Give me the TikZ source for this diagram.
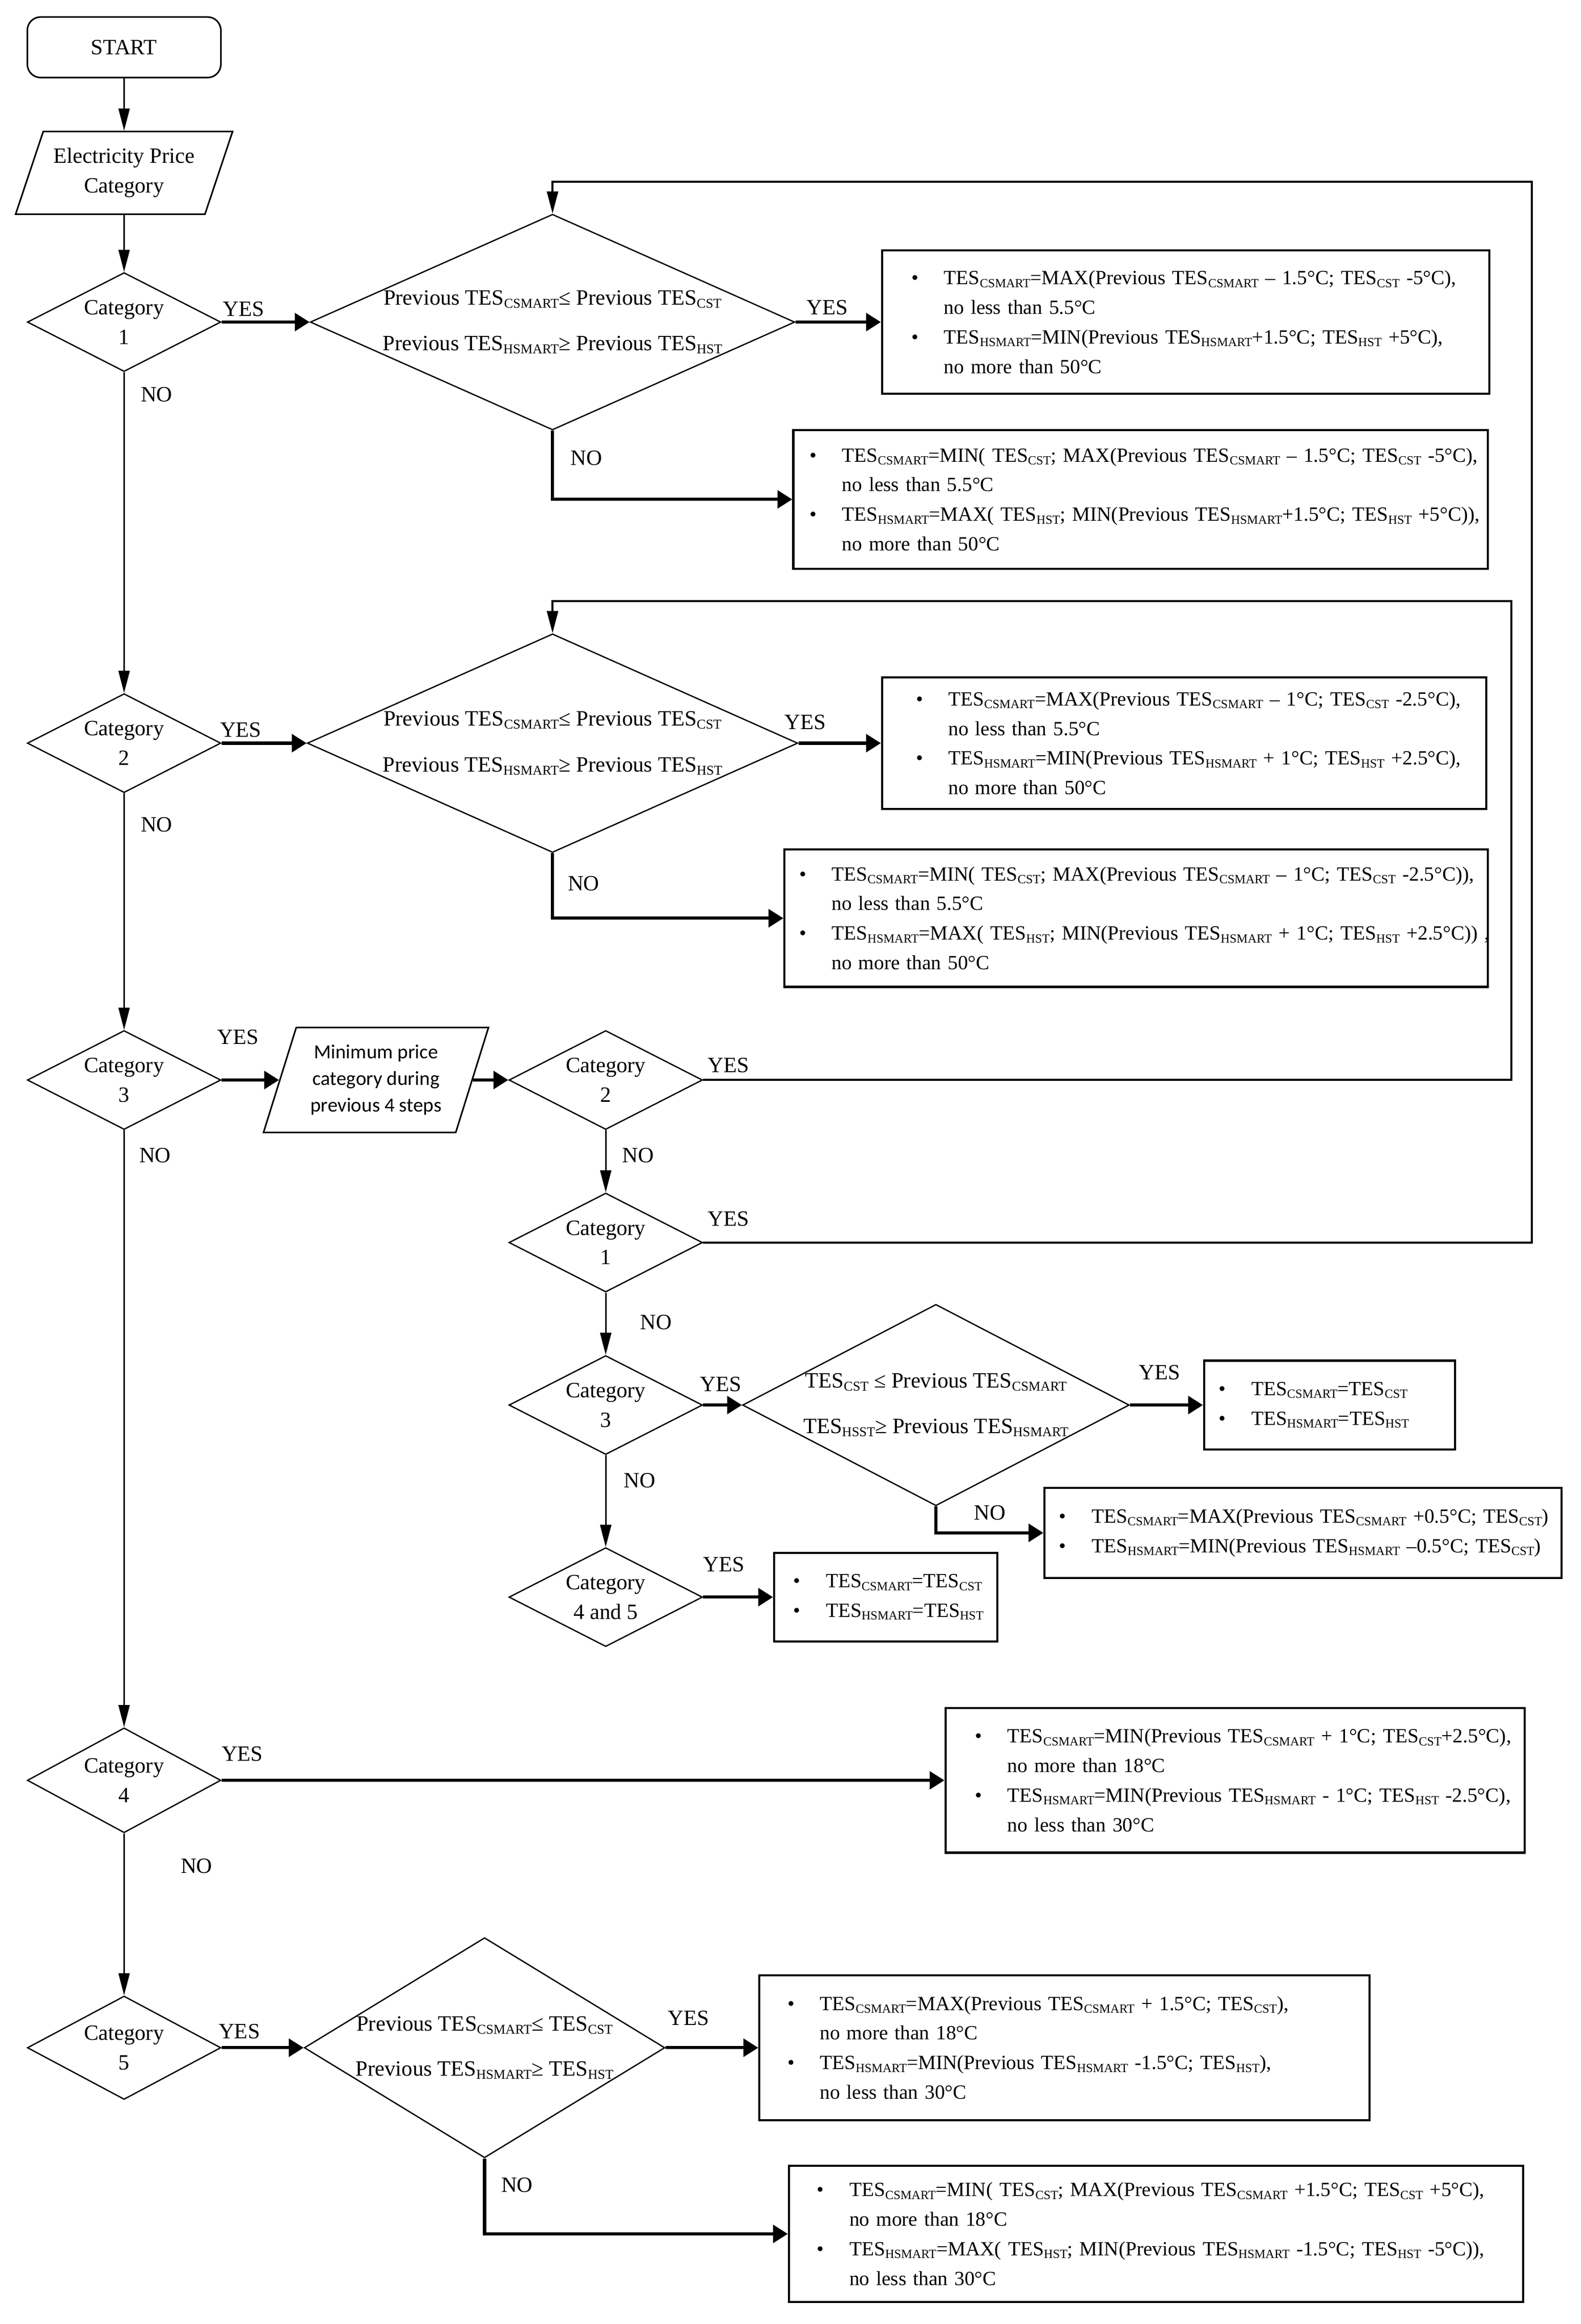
\documentclass[tikz,border=0pt]{standalone}
\usepackage{fontspec}
\setmainfont{Liberation Serif}
\newfontfamily\stepsfont{Carlito}
\usepackage{tikz}
\usetikzlibrary{arrows.meta, shapes}

\newcommand{\subpt}{5.2}
\newcommand{\fsz}{\fontsize{8.4}{11.4}\selectfont}
\newcommand{\boxfsz}{\fontsize{7.75}{11.4}\selectfont\def\subpt{4.8}}
\newcommand{\tsub}[1]{\raisebox{-0.3ex}{\fontsize{\subpt}{\subpt}\selectfont #1}}
\newcommand{\tescs}{TES\tsub{CSMART}}
\newcommand{\teshs}{TES\tsub{HSMART}}
\newcommand{\tescst}{TES\tsub{CST}}
\newcommand{\teshst}{TES\tsub{HST}}
\newcommand{\teshsst}{TES\tsub{HSST}}
\newcommand{\bulletline}[1]{\mbox{\makebox[4.4mm][l]{\textbullet}#1}}
\newcommand{\restline}[1]{\mbox{\hspace*{4.4mm}#1}}

\begin{document}
\begin{tikzpicture}[
    x=0.2mm, y=-0.2mm,
    every node/.style={font=\fsz, inner sep=0pt, align=center},
    startbox/.style={draw, line width=0.6pt, rounded corners=1.8mm, minimum width=26.2mm, minimum height=8.2mm},
    cat/.style={diamond, draw, line width=0.5pt, minimum width=26.2mm, minimum height=13.4mm, shape aspect=2},
    check/.style n args={3}{diamond, draw, line width=0.5pt, minimum width=#1, minimum height=#2, shape aspect=#3},
    resbox/.style n args={4}{draw, line width=0.85pt, minimum width=#1, minimum height=#2, inner xsep=#3, text width=#4, align=left, font=\boxfsz},
    arrow/.style={-{Triangle[length=3mm, width=1.5mm]}, line width=0.6pt},
    harrow/.style={-{Triangle[length=2mm, width=2.4mm]}, line width=1.2pt},
    loopline/.style={-{Triangle[length=3mm, width=1.5mm]}, line width=0.8pt}
    ]
    \useasboundingbox (0,0) rectangle (1070,1573);

    % Nodes
    \node (start) [startbox] at (84,32) {START};
    \node (price) [draw, line width=0.6pt, trapezium, trapezium left angle=64, trapezium right angle=116,
        trapezium stretches=true, minimum width=29.4mm, minimum height=11.2mm] at (84,117) {Electricity Price\\Category};

    \node (c1) [cat] at (84,218) {Category\\1};
    \node (d1) [check={65.6mm}{29.2mm}{2.25}] at (374,218)
        {Previous \tescs{}≤ Previous \tescst\\[6.2pt]Previous \teshs{}≥ Previous \teshst};
    \node (r1) [resbox={82.2mm}{19.4mm}{4mm}{74.2mm}] at (802.5,218)
        {\bulletline{\tescs=MAX(Previous \tescs{} – 1.5°C; \tescst{} -5°C),}\\
         \restline{no less than 5.5°C}\\
         \bulletline{\teshs=MIN(Previous \teshs{}+1.5°C; \teshst{} +5°C),}\\
         \restline{no more than 50°C}};
    \node (r2) [resbox={94mm}{18.8mm}{2.2mm}{89.6mm}] at (772,338)
        {\bulletline{\tescs=MIN( \tescst; MAX(Previous \tescs{} – 1.5°C; \tescst{} -5°C),}\\
         \restline{no less than 5.5°C}\\
         \bulletline{\teshs=MAX( \teshst; MIN(Previous \teshs{}+1.5°C; \teshst{} +5°C)),}\\
         \restline{no more than 50°C}};

    \node (c2) [cat] at (84,503) {Category\\2};
    \node (d2) [check={66.4mm}{29.6mm}{2.24}] at (374,503)
        {Previous \tescs{}≤ Previous \tescst\\[6.2pt]Previous \teshs{}≥ Previous \teshst};
    \node (r3) [resbox={81.8mm}{17.8mm}{4.6mm}{72.6mm}] at (801.5,503)
        {\bulletline{\tescs=MAX(Previous \tescs{} – 1°C; \tescst{} -2.5°C),}\\
         \restline{no less than 5.5°C}\\
         \bulletline{\teshs=MIN(Previous \teshs{} + 1°C; \teshst{} +2.5°C),}\\
         \restline{no more than 50°C}};
    \node (r4) [resbox={95.2mm}{18.6mm}{2mm}{91.2mm}] at (769,621.5)
        {\bulletline{\tescs=MIN( \tescst; MAX(Previous \tescs{} – 1°C; \tescst{} -2.5°C)),}\\
         \restline{no less than 5.5°C}\\
         \bulletline{\teshs=MAX( \teshst; MIN(Previous \teshs{} + 1°C; \teshst{} +2.5°C)) ,}\\
         \restline{no more than 50°C}};

    \node (c3) [cat] at (84,731) {Category\\3};
    \node (steps) [draw, line width=0.6pt, trapezium, trapezium left angle=69, trapezium right angle=111,
        trapezium stretches=true, minimum width=30.6mm, minimum height=14.2mm,
        font=\stepsfont\fontsize{7.7}{10.2}\selectfont] at (254.5,731) {Minimum price\\category during\\previous 4 steps};
    \node (b2) [cat] at (410,731) {Category\\2};
    \node (b1) [cat] at (410,841) {Category\\1};
    \node (b3) [cat] at (410,951) {Category\\3};
    \node (d3) [check={51.8mm}{27mm}{1.92}] at (633.5,951)
        {\tescst{} ≤ Previous \tescs\\[6.2pt]\teshsst{}≥ Previous \teshs};
    \node (r5) [resbox={34mm}{12mm}{2mm}{30mm}] at (900,951)
        {\bulletline{\tescs=\tescst}\\
         \bulletline{\teshs=\teshst}};
    \node (r6) [resbox={70mm}{12.2mm}{2mm}{66mm}] at (882,1037.5)
        {\bulletline{\tescs=MAX(Previous \tescs{} +0.5°C; \tescst)}\\
         \bulletline{\teshs=MIN(Previous \teshs{} –0.5°C; \tescst)}};
    \node (b45) [cat] at (410,1081) {Category\\4 and 5};
    \node (r7) [resbox={30.2mm}{12mm}{2.6mm}{25mm}] at (599.5,1081)
        {\bulletline{\tescs=\tescst}\\
         \bulletline{\teshs=\teshst}};

    \node (c4) [cat, minimum height=14.2mm] at (84,1205) {Category\\4};
    \node (r8) [resbox={78.4mm}{19.6mm}{4mm}{70.4mm}] at (836,1205)
        {\bulletline{\tescs=MIN(Previous \tescs{} + 1°C; \tescst+2.5°C),}\\
         \restline{no more than 18°C}\\
         \bulletline{\teshs=MIN(Previous \teshs{} - 1°C; \teshst{} -2.5°C),}\\
         \restline{no less than 30°C}};

    \node (c5) [cat, minimum height=14mm] at (84,1386) {Category\\5};
    \node (d5) [check={48.8mm}{29.8mm}{1.64}] at (328,1386)
        {Previous \tescs{}≤ \tescst\\[6pt]Previous \teshs{}≥ \teshst};
    \node (r9) [resbox={82.6mm}{19.6mm}{3.8mm}{75mm}] at (720.5,1386)
        {\bulletline{\tescs=MAX(Previous \tescs{} + 1.5°C; \tescst),}\\
         \restline{no more than 18°C}\\
         \bulletline{\teshs=MIN(Previous \teshs{} -1.5°C; \teshst),}\\
         \restline{no less than 30°C}};
    \node (r10) [resbox={99.4mm}{18.4mm}{3.8mm}{91.8mm}] at (782.5,1512)
        {\bulletline{\tescs=MIN( \tescst; MAX(Previous \tescs{} +1.5°C; \tescst{} +5°C),}\\
         \restline{no more than 18°C}\\
         \bulletline{\teshs=MAX( \teshst; MIN(Previous \teshs{} -1.5°C; \teshst{} -5°C)),}\\
         \restline{no less than 30°C}};

    \coordinate (loop1) at (1037,123);
    \coordinate (loop2) at (1023,407);

    % Labels
    \node (yc1) at (165,209) {YES};
    \node (nc1) at (106,267) {NO};
    \node (yd1) at (560,208) {YES};
    \node (nd1) at (397,310) {NO};
    \node (yc2) at (163,494) {YES};
    \node (nc2) at (106,558) {NO};
    \node (yd2) at (545,489) {YES};
    \node (nd2) at (395,598) {NO};
    \node (yc3) at (161,702) {YES};
    \node (nc3) at (105,782) {NO};
    \node (yb2) at (493,721) {YES};
    \node (nb2) at (432,782) {NO};
    \node (yb1) at (493,825) {YES};
    \node (nb1) at (444,895) {NO};
    \node (yb3) at (488,937) {YES};
    \node (nb3) at (433,1002) {NO};
    \node (yd3) at (785,929) {YES};
    \node (nd3) at (670,1024) {NO};
    \node (yb45) at (490,1059) {YES};
    \node (yc4) at (164,1187) {YES};
    \node (nc4) at (133,1263) {NO};
    \node (yc5) at (162,1375) {YES};
    \node (yd5) at (466,1366) {YES};
    \node (nd5) at (350,1479) {NO};

    % Arrows
    \draw[arrow] (start) -- (price);
    \draw[arrow] (price) -- (c1);
    \draw[harrow] (c1) -- (d1);
    \draw[harrow] (d1) -- (r1);
    \draw[harrow] (d1.south) |- (r2.west);
    \draw[arrow] (c1) -- (c2);

    \draw[harrow] (c2) -- (d2);
    \draw[harrow] (d2) -- (r3);
    \draw[harrow] (d2.south) |- (r4.west);
    \draw[arrow] (c2) -- (c3);

    \draw[harrow] (c3) -- (steps);
    \draw[harrow] (steps) -- (b2);
    \draw[loopline] (b2.east) -| (loop2) -| (d2.north);
    \draw[arrow] (b2) -- (b1);
    \draw[loopline] (b1.east) -| (loop1) -| (d1.north);
    \draw[arrow] (b1) -- (b3);
    \draw[harrow] (b3) -- (d3);
    \draw[harrow] (d3) -- (r5);
    \draw[harrow] (d3.south) |- (r6.west);
    \draw[arrow] (b3) -- (b45);
    \draw[harrow] (b45) -- (r7);

    \draw[arrow] (c3) -- (c4);
    \draw[harrow] (c4) -- (r8);
    \draw[arrow] (c4) -- (c5);
    \draw[harrow] (c5) -- (d5);
    \draw[harrow] (d5) -- (r9);
    \draw[harrow] (d5.south) |- (r10.west);
\end{tikzpicture}
\end{document}
